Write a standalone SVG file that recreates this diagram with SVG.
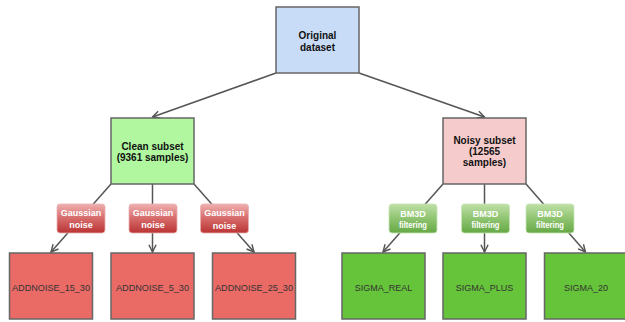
<svg xmlns="http://www.w3.org/2000/svg" width="625" height="322" viewBox="0 0 625 322">
<defs>
<style>
.n{stroke:#666;stroke-width:1.5}
.t{font-family:"Liberation Sans",Arial,sans-serif;font-size:10px;font-weight:bold;fill:#111;text-anchor:middle}
.b{font-family:"Liberation Sans",Arial,sans-serif;font-size:9px;fill:#333;text-anchor:middle}
.l{font-family:"Liberation Sans",Arial,sans-serif;font-size:9px;font-weight:bold;fill:#fff;text-anchor:middle}
.c{stroke:#555;stroke-width:1.5;fill:none;marker-end:url(#arr)}
</style>
<linearGradient id="gr" x1="0" y1="0" x2="0" y2="1">
<stop offset="0" stop-color="#f0b0b0"/>
<stop offset="0.5" stop-color="#d66a6a"/>
<stop offset="1" stop-color="#bb3333"/>
</linearGradient>
<linearGradient id="gg" x1="0" y1="0" x2="0" y2="1">
<stop offset="0" stop-color="#bfe0a8"/>
<stop offset="0.5" stop-color="#8fc470"/>
<stop offset="1" stop-color="#66a845"/>
</linearGradient>
<marker id="arr" viewBox="0 0 10 10" refX="9" refY="5" markerWidth="9" markerHeight="9" markerUnits="userSpaceOnUse" orient="auto">
<path d="M1,1 L9,5 L1,9" fill="none" stroke="#555" stroke-width="1.6"/>
</marker>
</defs>
<g id="connectors">
<line class="c" x1="276" y1="73" x2="152.5" y2="117"/>
<line class="c" x1="359" y1="73" x2="484.5" y2="117"/>
<line class="c" x1="111" y1="184" x2="51" y2="252"/>
<line class="c" x1="152.5" y1="184" x2="152.5" y2="252"/>
<line class="c" x1="194" y1="184" x2="254" y2="252"/>
<line class="c" x1="443" y1="184" x2="383" y2="252"/>
<line class="c" x1="484.5" y1="184" x2="484.5" y2="252"/>
<line class="c" x1="526" y1="184" x2="585.5" y2="252"/>
</g>
<g id="original">
<rect class="n" x="276" y="7" width="83" height="66" fill="#c9dcf7"/>
<text class="t" x="317.5" y="39">Original</text>
<text class="t" x="317.5" y="50.5">dataset</text>
</g>
<g id="clean">
<rect class="n" x="111" y="118" width="83" height="66" fill="#b0f7a0"/>
<text class="t" x="152.5" y="149.5">Clean subset</text>
<text class="t" x="152.5" y="160.5">(9361 samples)</text>
</g>
<g id="noisy">
<rect class="n" x="443" y="118" width="83" height="66" fill="#f5cbcb"/>
<text class="t" x="484.5" y="144">Noisy subset</text>
<text class="t" x="484.5" y="155">(12565</text>
<text class="t" x="484.5" y="166">samples)</text>
</g>
<g id="label1">
<rect x="57" y="204" width="48" height="29" rx="3" fill="url(#gr)" stroke="#e8b0b0" stroke-width="0.8"/>
<text class="l" x="81" y="215.5">Gaussian</text>
<text class="l" x="81" y="227.5">noise</text>
</g>
<g id="label2">
<rect x="129" y="204" width="48" height="29" rx="3" fill="url(#gr)" stroke="#e8b0b0" stroke-width="0.8"/>
<text class="l" x="153" y="215.5">Gaussian</text>
<text class="l" x="153" y="227.5">noise</text>
</g>
<g id="label3">
<rect x="200.5" y="204" width="48" height="29" rx="3" fill="url(#gr)" stroke="#e8b0b0" stroke-width="0.8"/>
<text class="l" x="224.5" y="216">Gaussian</text>
<text class="l" x="224.5" y="229">noise</text>
</g>
<g id="label4">
<rect x="389" y="204" width="48" height="29" rx="3" fill="url(#gg)" stroke="#c8e4b8" stroke-width="0.8"/>
<text class="l" x="413" y="217">BM3D</text>
<text class="l" x="413" y="227.5" textLength="28" lengthAdjust="spacingAndGlyphs">filtering</text>
</g>
<g id="label5">
<rect x="461.5" y="204" width="48" height="29" rx="3" fill="url(#gg)" stroke="#c8e4b8" stroke-width="0.8"/>
<text class="l" x="485.5" y="217">BM3D</text>
<text class="l" x="485.5" y="227.5" textLength="28" lengthAdjust="spacingAndGlyphs">filtering</text>
</g>
<g id="label6">
<rect x="526" y="204" width="48" height="29" rx="3" fill="url(#gg)" stroke="#c8e4b8" stroke-width="0.8"/>
<text class="l" x="550" y="217">BM3D</text>
<text class="l" x="550" y="227.5" textLength="28" lengthAdjust="spacingAndGlyphs">filtering</text>
</g>
<g id="addnoise_15_30">
<rect class="n" x="9.5" y="253" width="83" height="66" fill="#ea6b66"/>
<text class="b" x="51" y="291" textLength="78" lengthAdjust="spacingAndGlyphs">ADDNOISE_15_30</text>
</g>
<g id="addnoise_5_30">
<rect class="n" x="111" y="253" width="83" height="66" fill="#ea6b66"/>
<text class="b" x="152.5" y="291" textLength="73" lengthAdjust="spacingAndGlyphs">ADDNOISE_5_30</text>
</g>
<g id="addnoise_25_30">
<rect class="n" x="212.5" y="253" width="83" height="66" fill="#ea6b66"/>
<text class="b" x="254" y="291" textLength="78" lengthAdjust="spacingAndGlyphs">ADDNOISE_25_30</text>
</g>
<g id="sigma_real">
<rect class="n" x="342" y="253" width="83" height="66" fill="#66c43a"/>
<text class="b" x="383.5" y="291">SIGMA_REAL</text>
</g>
<g id="sigma_plus">
<rect class="n" x="443" y="253" width="83" height="66" fill="#66c43a"/>
<text class="b" x="484.5" y="291">SIGMA_PLUS</text>
</g>
<g id="sigma_20">
<rect class="n" x="544.5" y="253" width="83" height="66" fill="#66c43a"/>
<text class="b" x="586" y="291">SIGMA_20</text>
</g>
</svg>
